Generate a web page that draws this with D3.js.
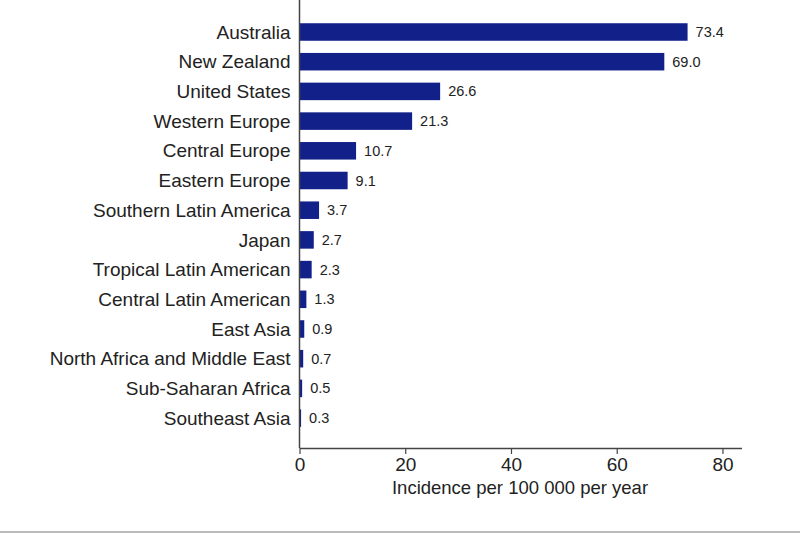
<!DOCTYPE html>
<html>
<head>
<meta charset="utf-8">
<script src="https://cdn.jsdelivr.net/npm/d3@7"></script>
<style>
  body { margin: 0; background: #fff; }
  svg { display: block; font-family: "Liberation Sans", Arial, sans-serif; }
</style>
</head>
<body>
<svg width="800" height="533"></svg>
<script>
const regions = ["Australia", "New Zealand", "United States", "Western Europe", "Central Europe",
    "Eastern Europe", "Southern Latin America", "Japan", "Tropical Latin American",
    "Central Latin American", "East Asia", "North Africa and Middle East", "Sub-Saharan Africa", "Southeast Asia"];
const incidence = [73.4, 69.0, 26.6, 21.3, 10.7, 9.1, 3.7, 2.7, 2.3, 1.3, 0.9, 0.7, 0.5, 0.3];
const xTicks = [0, 20, 40, 60, 80];

const data = regions.map((r, i) => ({ region: r, value: incidence[i] }));

const svg = d3.select("svg");
const x0 = 299.5, x1 = 741.5, axisY = 448;

const xScale = d3.scaleLinear()
    .domain([0, 83.6])
    .range([x0, x1]);

const yScale = d3.scaleBand()
    .domain(regions)
    .range([17.15, 432.95])
    .paddingInner(0.41)
    .paddingOuter(0.205);

// bars
svg.selectAll(".bar")
    .data(data)
    .enter()
    .append("rect")
    .attr("class", "bar")
    .attr("x", xScale(0))
    .attr("y", d => yScale(d.region))
    .attr("width", d => xScale(d.value) - xScale(0))
    .attr("height", yScale.bandwidth())
    .attr("fill", "#12208a");

// value labels
svg.selectAll(".val")
    .data(data)
    .enter()
    .append("text")
    .attr("class", "val")
    .attr("x", d => xScale(d.value) + 8)
    .attr("y", d => yScale(d.region) + yScale.bandwidth() / 2)
    .attr("dy", "0.35em")
    .attr("font-size", "14.5px")
    .attr("fill", "#222")
    .text(d => d.value.toFixed(1));

// category labels
svg.selectAll(".cat")
    .data(data)
    .enter()
    .append("text")
    .attr("class", "cat")
    .attr("x", x0 - 9)
    .attr("y", d => yScale(d.region) + yScale.bandwidth() / 2)
    .attr("dy", "0.35em")
    .attr("text-anchor", "end")
    .attr("font-size", "19px")
    .attr("fill", "#222")
    .text(d => d.region);

// left axis line
svg.append("line")
    .attr("x1", x0).attr("x2", x0)
    .attr("y1", 0).attr("y2", axisY)
    .attr("stroke", "#444").attr("stroke-width", 1.5);

// bottom axis
const xAxis = d3.axisBottom(xScale).tickValues(xTicks).tickSize(6).tickSizeOuter(0).tickPadding(4);
const gx = svg.append("g")
    .attr("id", "x-axis")
    .attr("transform", `translate(0,${axisY})`)
    .call(xAxis);
gx.select(".domain").attr("stroke", "#444").attr("stroke-width", 1.5);
gx.selectAll(".tick line").attr("stroke", "#444").attr("stroke-width", 1.2);
gx.selectAll(".tick text")
    .attr("font-family", "Liberation Sans, Arial, sans-serif")
    .attr("font-size", "19px")
    .attr("fill", "#222");

svg.append("text")
    .attr("x", 520)
    .attr("y", 488)
    .attr("dy", "0.35em")
    .attr("text-anchor", "middle")
    .attr("font-size", "18.5px")
    .attr("fill", "#222")
    .text("Incidence per 100 000 per year");

// footer rule
svg.append("line")
    .attr("x1", 0).attr("x2", 800)
    .attr("y1", 532).attr("y2", 532)
    .attr("stroke", "#bbb").attr("stroke-width", 2);
</script>
</body>
</html>
